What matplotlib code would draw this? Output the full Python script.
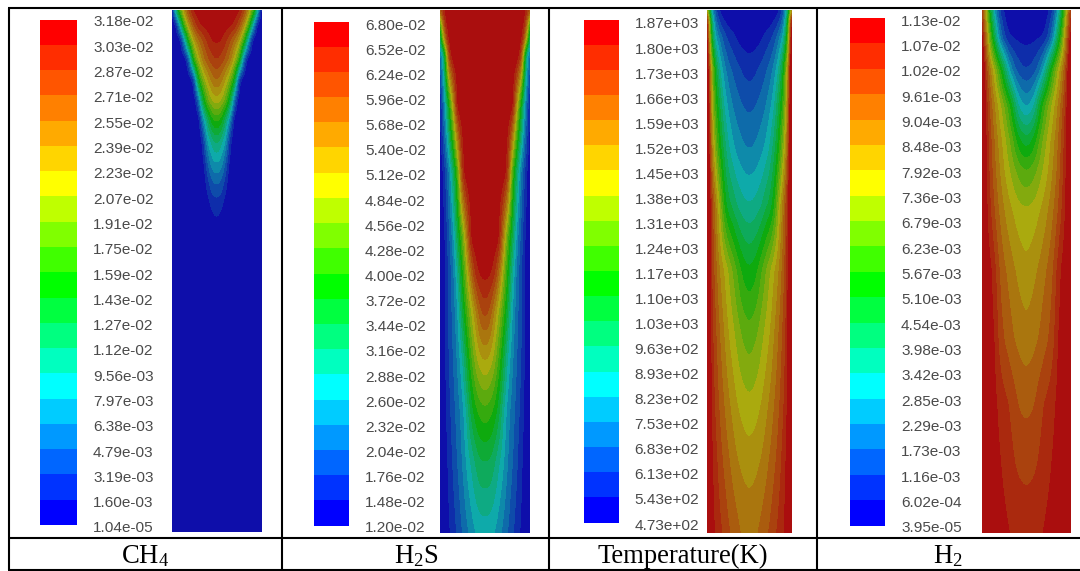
import numpy as np
import matplotlib
matplotlib.use("Agg")
from matplotlib import pyplot as plt

plt.rcParams['mathtext.fontset'] = 'custom'
plt.rcParams['mathtext.rm'] = 'Liberation Serif'
plt.rcParams['mathtext.default'] = 'rm'

# legend labels, top to bottom
ch4_labels = ["3.18e-02", "3.03e-02", "2.87e-02", "2.71e-02", "2.55e-02", "2.39e-02", "2.23e-02",
              "2.07e-02", "1.91e-02", "1.75e-02", "1.59e-02", "1.43e-02", "1.27e-02", "1.12e-02",
              "9.56e-03", "7.97e-03", "6.38e-03", "4.79e-03", "3.19e-03", "1.60e-03", "1.04e-05"]
h2s_labels = ["6.80e-02", "6.52e-02", "6.24e-02", "5.96e-02", "5.68e-02", "5.40e-02", "5.12e-02",
              "4.84e-02", "4.56e-02", "4.28e-02", "4.00e-02", "3.72e-02", "3.44e-02", "3.16e-02",
              "2.88e-02", "2.60e-02", "2.32e-02", "2.04e-02", "1.76e-02", "1.48e-02", "1.20e-02"]
temp_labels = ["1.87e+03", "1.80e+03", "1.73e+03", "1.66e+03", "1.59e+03", "1.52e+03", "1.45e+03",
               "1.38e+03", "1.31e+03", "1.24e+03", "1.17e+03", "1.10e+03", "1.03e+03", "9.63e+02",
               "8.93e+02", "8.23e+02", "7.53e+02", "6.83e+02", "6.13e+02", "5.43e+02", "4.73e+02"]
h2_labels = ["1.13e-02", "1.07e-02", "1.02e-02", "9.61e-03", "9.04e-03", "8.48e-03", "7.92e-03",
             "7.36e-03", "6.79e-03", "6.23e-03", "5.67e-03", "5.10e-03", "4.54e-03", "3.98e-03",
             "3.42e-03", "2.85e-03", "2.29e-03", "1.73e-03", "1.16e-03", "6.02e-04", "3.95e-05"]

captions = ["CH$_4$", "H$_2$S", "Temperature(K)", "H$_2$"]

# colour bands, top to bottom
band_colors = ["#ff0000", "#ff2d00", "#ff5500", "#ff8000", "#ffaa00", "#ffd500", "#ffff00",
               "#bfff00", "#80ff00", "#40ff00", "#00ff00", "#00ff40", "#00ff80", "#00ffbf",
               "#00ffff", "#00ccff", "#0099ff", "#0066ff", "#0033ff", "#0000ff"]

# fields, in legend steps (0 = bottom label, 20 = top label)
# columns: centre (0.0) to wall (1.0), in tenths of the half width
radius = [0.0, 0.1, 0.2, 0.3, 0.4, 0.5, 0.6, 0.7, 0.8, 0.9, 1.0]

ch4_depth = [0, 15, 30, 50, 70, 90, 110, 130, 150, 170, 190, 208, 230, 522]
ch4_steps = [
    [20, 20, 20, 20, 19.7, 19.2, 17.7, 15, 11.5, 6.3, 0],
    [19.8, 19.7, 19.5, 19.2, 18.6, 17, 14.7, 11.2, 5.7, 0.5, 0],
    [19.2, 19.05, 18.2, 17, 15.8, 14, 10.7, 5, 0.5, 0, 0],
    [18, 17.5, 16.6, 15.3, 13, 10, 3.2, 0, 0, 0, 0],
    [16, 15.3, 13.7, 12, 8.7, 1.5, 0, 0, 0, 0, 0],
    [13.6, 13, 11.5, 8.3, 3, 0, 0, 0, 0, 0, 0],
    [10.3, 9.5, 7, 4, 0, 0, 0, 0, 0, 0, 0],
    [7.5, 6.5, 5, 1.3, 0, 0, 0, 0, 0, 0, 0],
    [5.3, 4.8, 3, 0.5, 0, 0, 0, 0, 0, 0, 0],
    [3.4, 3, 1.6, 0, 0, 0, 0, 0, 0, 0, 0],
    [1.85, 1.5, 0.6, 0, 0, 0, 0, 0, 0, 0, 0],
    [1, 0.6, 0, 0, 0, 0, 0, 0, 0, 0, 0],
    [0, 0, 0, 0, 0, 0, 0, 0, 0, 0, 0],
    [0, 0, 0, 0, 0, 0, 0, 0, 0, 0, 0],
]

h2s_depth = [0, 12, 28, 45, 95, 162, 228, 262, 300, 350, 400, 450, 522]
h2s_steps = [
    [20, 20, 20, 20, 20, 20, 20, 20, 20, 19, 17],
    [20, 20, 20, 20, 20, 20, 20, 20, 20, 18, 10],
    [20, 20, 20, 20, 20, 20, 20, 20, 19.5, 15, 6],
    [20, 20, 20, 20, 20, 20, 20, 20, 17.5, 7, 3],
    [20, 20, 20, 20, 20, 20, 19.7, 14, 9, 4, 0.5],
    [20, 20, 20, 20, 20, 18, 11, 7, 3.8, 1.4, 0],
    [20, 20, 19.9, 19.2, 15, 11, 8, 4.5, 2.6, 0.7, 0],
    [19.4, 19.2, 18.4, 16, 12.8, 9.5, 6.2, 3.7, 2.2, 0.5, 0],
    [17.5, 16.8, 15, 13, 10.8, 8, 5, 3.4, 2.2, 0.6, 0],
    [14, 13.6, 12.5, 10.7, 8.3, 5.8, 4.2, 3, 2, 0.6, 0],
    [10.7, 10.4, 9.7, 8.4, 6.2, 4.5, 3.5, 2.6, 1.6, 0.5, 0],
    [8, 7.9, 7.2, 6.2, 5.2, 4, 3.1, 2.2, 1.2, 0.4, 0],
    [5.4, 5.3, 5, 4.4, 3.7, 3, 2.2, 1.5, 0.8, 0.4, 0],
]

temp_depth = [0, 10, 28, 60, 95, 140, 195, 260, 320, 390, 450, 522]
temp_steps = [
    [0, 0, 0, 0, 0, 0, 0.2, 0.8, 2.5, 6, 14],
    [0.1, 0.1, 0.15, 0.2, 0.3, 0.5, 1, 1.8, 3.5, 8, 20],
    [0.4, 0.45, 0.6, 0.9, 1.4, 1.8, 2.6, 3.8, 5.5, 10, 21],
    [1.6, 1.7, 2, 2.4, 2.9, 3.5, 4.6, 6.2, 9, 14, 22],
    [2.75, 2.85, 3.1, 3.5, 4, 4.8, 6, 8.2, 10.5, 14.5, 23],
    [4.05, 4.1, 4.4, 4.8, 5.4, 6.3, 7.8, 9.8, 12.5, 16, 23],
    [6.1, 6.2, 6.5, 7, 7.8, 8.4, 10, 13, 15.5, 18.2, 23],
    [9.2, 9.4, 10, 11, 12, 13, 14, 15, 16.5, 18.3, 23],
    [11.3, 11.5, 11.9, 12.6, 13.3, 14, 15, 16, 17.2, 18.7, 23],
    [13.2, 13.3, 13.6, 14, 14.6, 15.2, 16, 16.8, 17.8, 19, 22],
    [14.5, 14.6, 14.8, 15.1, 15.6, 16.2, 16.8, 17.5, 18.4, 19.4, 22],
    [15.75, 15.8, 15.95, 16.4, 16.8, 17.2, 17.8, 18.3, 18.9, 19.6, 22],
]

h2_depth = [0, 28, 60, 95, 130, 160, 200, 260, 330, 393, 460, 522]
h2_steps = [
    [0, 0, 0, 0, 0, 0.8, 2, 4.5, 8, 13, 18],
    [0.65, 0.7, 0.8, 0.95, 1.2, 2.3, 4.2, 7.5, 11, 15.5, 20],
    [2.1, 2.2, 2.7, 3.7, 5.5, 8, 10.5, 12.8, 15, 17.5, 22],
    [4.8, 5.2, 6.2, 8.5, 10.5, 12, 13.4, 14.8, 16.5, 18.5, 22],
    [8.4, 8.7, 9.6, 11, 12.3, 13.4, 14.5, 15.7, 17.2, 18.9, 22],
    [11, 11.2, 11.7, 12.4, 13.2, 14, 15, 16.1, 17.5, 19, 22],
    [13.2, 13.25, 13.5, 13.9, 14.4, 15, 15.8, 16.8, 18, 19.3, 22],
    [14.3, 14.5, 14.8, 15.2, 15.7, 16.2, 16.9, 18.2, 19.2, 19.7, 22],
    [15.45, 15.55, 15.8, 16.1, 16.6, 17, 17.6, 18.9, 19.5, 20, 22],
    [16.75, 16.8, 17, 17.6, 18, 18.3, 18.7, 19.2, 19.6, 20, 22],
    [17.8, 17.85, 17.95, 18.2, 18.5, 18.8, 19.15, 19.5, 19.8, 20, 22],
    [18.6, 18.6, 18.7, 18.85, 19.05, 19.3, 19.5, 19.7, 19.9, 20, 22],
]

W, H = 1080, 571


def px_axes(x0, y0, x1, y1):
    return fig.add_axes([x0 / W, 1 - y1 / H, (x1 - x0) / W, (y1 - y0) / H])


def smooth(a, n, axis):
    # box filter, edges held
    pad = [(0, 0), (0, 0)]
    pad[axis] = (n, n)
    b = np.pad(a, pad, mode='edge')
    return np.apply_along_axis(lambda v: np.convolve(v, np.ones(2 * n + 1) / (2 * n + 1), mode='valid'), axis, b)


def fine_field(depth, steps):
    steps = np.array(steps, dtype=float)
    d = np.arange(0, 523, 1.0)
    r = np.linspace(-1, 1, 181)
    by_depth = np.array([np.interp(d, depth, steps[:, j]) for j in range(steps.shape[1])]).T
    z = np.array([np.interp(np.abs(r), radius, row) for row in by_depth])
    z = smooth(smooth(z, 5, 0), 4, 1)
    return r, d, z


def draw_panel(labels, depth, steps, bar_box, label_span, contour_box):
    vmax, vmin = float(labels[0]), float(labels[-1])

    ax = px_axes(*bar_box)
    ax.barh(np.arange(20) + 0.5, 1, height=1.0, color=band_colors[::-1], linewidth=0)
    ax.set_xlim(0, 1)
    ax.set_ylim(0, 20)
    ax.axis('off')

    # labels sit on their own axes, they do not line up exactly with the bar edges
    ax = px_axes(bar_box[0], label_span[0], bar_box[2], label_span[1])
    ax.patch.set_alpha(0)
    ax.set_xlim(0, 1)
    ax.set_ylim(0, 20)
    ax.set_xticks([])
    ax.yaxis.tick_right()
    ax.set_yticks(np.arange(21))
    ax.set_yticklabels(labels[::-1], fontfamily='Liberation Sans', fontsize=11.1, color='#4a4a4a')
    ax.tick_params(axis='y', length=0, pad=11.5)
    for s in ax.spines.values():
        s.set_visible(False)

    ax = px_axes(*contour_box)
    r, d, z = fine_field(depth, steps)
    values = vmin + np.clip(z, 0.001, 19.999) / 20 * (vmax - vmin)
    levels = np.linspace(vmin, vmax, 21)
    dark = []
    for c in band_colors[::-1]:
        rgb = np.array(matplotlib.colors.to_rgb(c))
        dark.append(tuple(0.61 * rgb + 0.055))
    ax.contourf(r, d, values, levels=levels, colors=dark)
    ax.set_xlim(-1, 1)
    ax.set_ylim(522, 0)
    ax.axis('off')


fig = plt.figure(figsize=(W / 100, H / 100), dpi=100, facecolor='white')

draw_panel(ch4_labels, ch4_depth, ch4_steps, (40, 19.5, 77, 525), (21, 527), (171.5, 10, 261.5, 532))
draw_panel(h2s_labels, h2s_depth, h2s_steps, (314, 21.5, 349, 525.5), (24, 527), (440, 10, 530, 533))
draw_panel(temp_labels, temp_depth, temp_steps, (584, 19.5, 618.5, 522.5), (23, 524), (706.5, 10, 792, 533))
draw_panel(h2_labels, h2_depth, h2_steps, (850, 18, 885, 525.5), (20, 527), (981.5, 10, 1071, 533))

# table rules and captions
grid = fig.add_axes([0, 0, 1, 1], zorder=5)
grid.set_xlim(0, W)
grid.set_ylim(H, 0)
grid.axis('off')
grid.patch.set_alpha(0)
for y in [8, 538, 569.5]:
    grid.plot([8, W], [y, y], color='black', lw=1.5, solid_capstyle='butt')
for x in [8.5, 282, 549, 817]:
    grid.plot([x, x], [7.5, 570], color='black', lw=1.5, solid_capstyle='butt')
for cx, cap in zip([145, 416, 683, 948], captions):
    grid.text(cx, 556, cap, ha='center', va='center', family='Liberation Serif', fontsize=19.2, color='black')

fig.savefig('out.png', dpi=100)
